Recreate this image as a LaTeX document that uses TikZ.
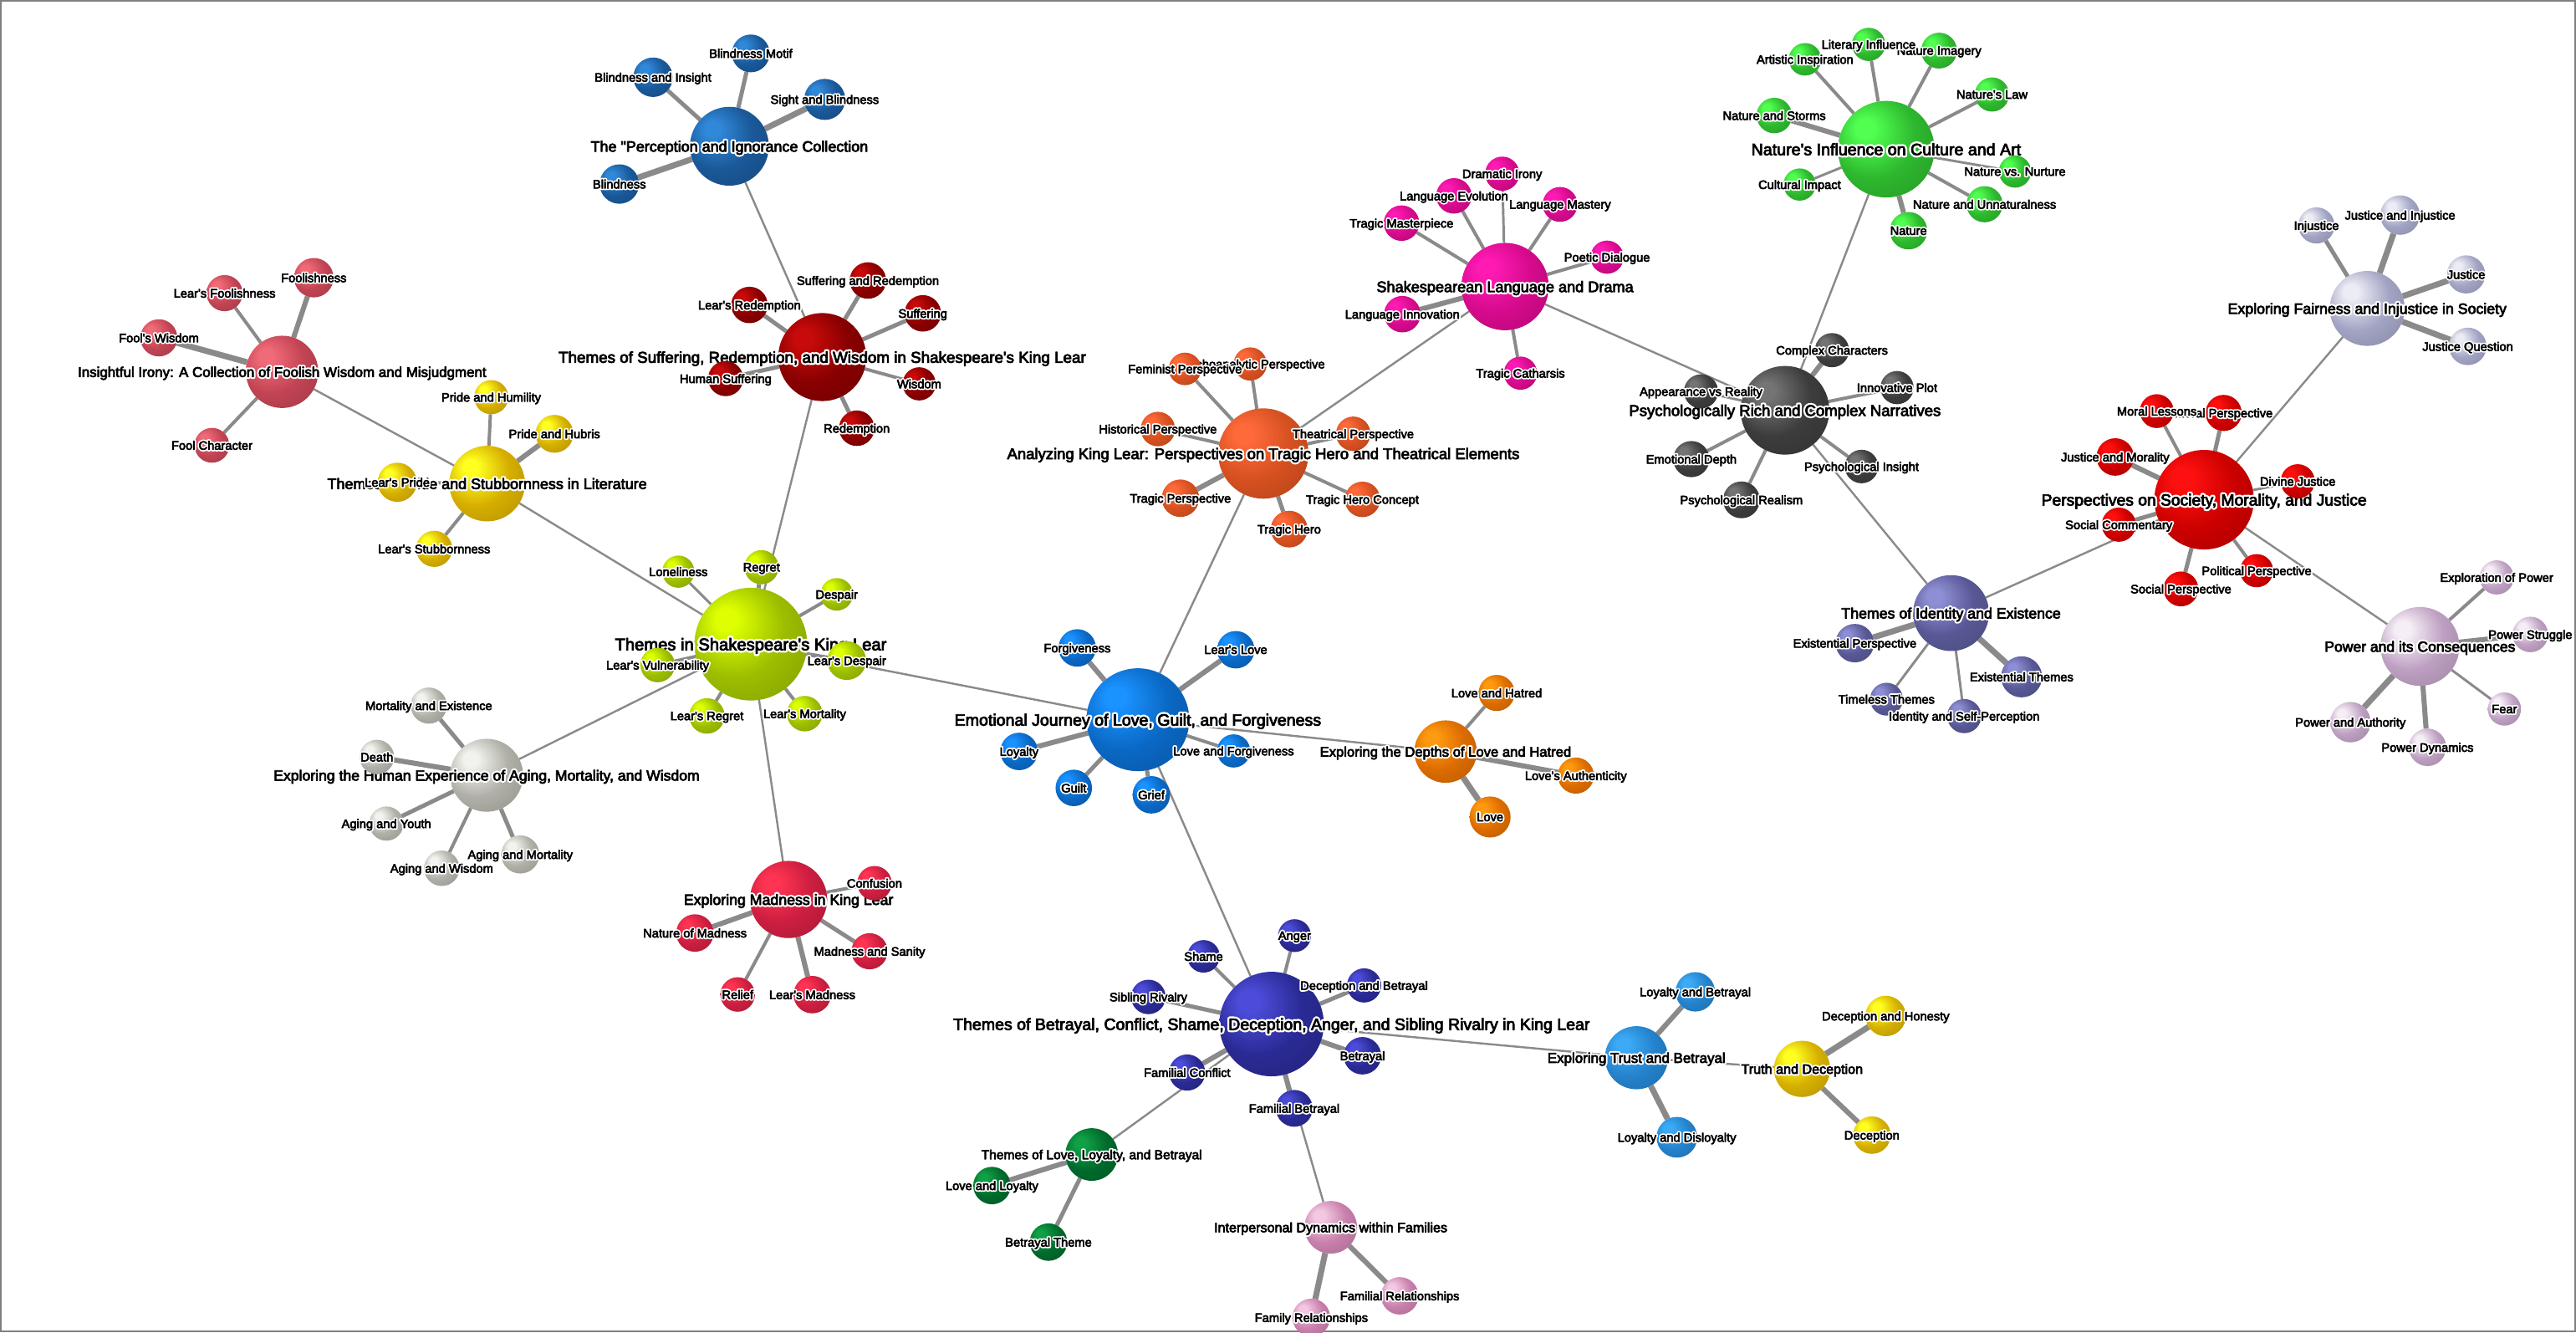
\documentclass[tikz,border=0pt]{standalone}
\usepackage{fontspec}
\newfontfamily\lblfont[FakeBold=4]{Liberation Sans}
\newfontfamily\halofont[FakeBold=28]{Liberation Sans}
\newcommand\hl[1]{\leavevmode\rlap{\color{white}\halofont #1}#1}
\pgfdeclarelayer{bgl}
\pgfdeclarelayer{edgel}
\pgfsetlayers{bgl,edgel,main}
% base / light colours
\definecolor{perc}{HTML}{1A5898}\definecolor{percL}{HTML}{3088D8}
\definecolor{fool}{HTML}{C24454}\definecolor{foolL}{HTML}{F06A78}
\definecolor{pride}{HTML}{D6AE00}\definecolor{prideL}{HTML}{FFFF20}
\definecolor{aging}{HTML}{B0B0A8}\definecolor{agingL}{HTML}{F2F2EE}
\definecolor{cent}{HTML}{9CBE00}\definecolor{centL}{HTML}{DDFF00}
\definecolor{suf}{HTML}{880000}\definecolor{sufL}{HTML}{C80A0A}
\definecolor{ana}{HTML}{D65020}\definecolor{anaL}{HTML}{FF6A3A}
\definecolor{lang}{HTML}{D60A8C}\definecolor{langL}{HTML}{FF1AB4}
\definecolor{nat}{HTML}{2EB82E}\definecolor{natL}{HTML}{50FF50}
\definecolor{psy}{HTML}{3C3C3C}\definecolor{psyL}{HTML}{747474}
\definecolor{fair}{HTML}{A2A4C4}\definecolor{fairL}{HTML}{ECECF4}
\definecolor{soc}{HTML}{CC0000}\definecolor{socL}{HTML}{FF1010}
\definecolor{ident}{HTML}{585896}\definecolor{identL}{HTML}{8E8ED4}
\definecolor{pow}{HTML}{BEA0C2}\definecolor{powL}{HTML}{F6EEF6}
\definecolor{emo}{HTML}{0A68C4}\definecolor{emoL}{HTML}{1A92FF}
\definecolor{lh}{HTML}{DC6C00}\definecolor{lhL}{HTML}{FF9A10}
\definecolor{mad}{HTML}{CC1E40}\definecolor{madL}{HTML}{FF3452}
\definecolor{bet}{HTML}{2A2A94}\definecolor{betL}{HTML}{4C4CDA}
\definecolor{ll}{HTML}{006A2C}\definecolor{llL}{HTML}{10A046}
\definecolor{inter}{HTML}{C880AC}\definecolor{interL}{HTML}{F4C8E2}
\definecolor{tru}{HTML}{2482CC}\definecolor{truL}{HTML}{3CAAF6}
\definecolor{tth}{HTML}{D6B000}\definecolor{tthL}{HTML}{FFFF20}
\definecolor{edgegray}{HTML}{8A8A8A}
\definecolor{framegray}{HTML}{808080}
\colorlet{bc}{black}\colorlet{bl}{white}
\pgfdeclareradialshading[bc,bl]{sph}{\pgfpoint{-12bp}{12bp}}{%
 color(0bp)=(bl); color(5bp)=(bl); color(22bp)=(bc); color(38bp)=(bc!85!black); color(56bp)=(bc!68!black)}
\tikzset{
 ball/.style={circle, inner sep=0pt, outer sep=0pt, draw=none,
   /utils/exec={\colorlet{bc}{#1}\colorlet{bl}{#1L}}, shading=sph, shade},
 lbl/.style={font=\lblfont\fontsize{#1}{#1}\selectfont, inner sep=0pt, text=black,
   text depth=0pt},
 hubE/.style={draw=edgegray, line width=0.7pt},
 ea/.style={draw=edgegray, line width=0.85pt},
 eb/.style={draw=edgegray, line width=1.15pt},
 ec/.style={draw=edgegray, line width=1.45pt},
 ed/.style={draw=edgegray, line width=1.75pt},
 ee/.style={draw=edgegray, line width=2.05pt},
}
\newcommand\Hub[7]{\node[ball=#5, minimum size={#4*0.04cm},
  label={[lbl=#6, name=#1t]center:{\hl{#7}}}] (#1) at (#2,#3) {};}
\newcommand\Leaf[6]{\node[ball=#5, minimum size={#4*0.04cm},
  label={[lbl=4.25, name=#1t]center:{\hl{#6}}}] (#1) at (#2,#3) {};}
\begin{document}
\begin{tikzpicture}[x=0.02cm, y=-0.02cm, line join=round]
\useasboundingbox (0,0) rectangle (1568,811);
\begin{pgfonlayer}{bgl}
 \fill[white] (0,0) rectangle (1568,811);
 \draw[framegray, line width=0.6pt] (0.6,0.6) rectangle (1567.4,810.4);
\end{pgfonlayer}
% A perception
\Hub{A}{444}{89}{24}{perc}{5.2}{The "Perception and Ignorance Collection}
\Leaf{A1}{457}{32.5}{11.5}{perc}{Blindness Motif}
\Leaf{A2}{397.5}{47}{12}{perc}{Blindness and Insight}
\Leaf{A3}{502}{60.5}{12.5}{perc}{Sight and Blindness}
\Leaf{A4}{377}{112}{12}{perc}{Blindness}
% B fool
\Hub{B}{171.7}{226.3}{22}{fool}{4.9}{Insightful Irony: A Collection of Foolish Wisdom and Misjudgment}
\Leaf{B1}{191}{169}{12}{fool}{Foolishness}
\Leaf{B2}{136.7}{178.4}{11}{fool}{Lear's Foolishness}
\Leaf{B3}{96.7}{205.6}{11.3}{fool}{Fool's Wisdom}
\Leaf{B4}{129}{271}{10.6}{fool}{Fool Character}
% C pride
\Hub{C}{296.5}{294.3}{23}{pride}{5.2}{Themes of Pride and Stubbornness in Literature}
\Leaf{C1}{299}{241.7}{10.4}{pride}{Pride and Humility}
\Leaf{C2}{337.5}{264}{11.5}{pride}{Pride and Hubris}
\Leaf{C3}{241.8}{293.5}{11.9}{pride}{Lear's Pride}
\Leaf{C4}{264.3}{334}{11}{pride}{Lear's Stubbornness}
% D aging
\Hub{D}{296.2}{471.8}{22.2}{aging}{5.1}{Exploring the Human Experience of Aging, Mortality, and Wisdom}
\Leaf{D1}{261}{429.4}{11}{aging}{Mortality and Existence}
\Leaf{D2}{229.4}{460.7}{10.5}{aging}{Death}
\Leaf{D3}{235.2}{501.2}{10.4}{aging}{Aging and Youth}
\Leaf{D4}{268.9}{528.4}{10.8}{aging}{Aging and Wisdom}
\Leaf{D5}{316.7}{520}{11.6}{aging}{Aging and Mortality}
% E central
\Hub{E}{457}{392}{34.3}{cent}{5.85}{Themes in Shakespeare's King Lear}
\Leaf{E1}{412.9}{347.9}{9.8}{cent}{Loneliness}
\Leaf{E2}{463.5}{345.2}{10.4}{cent}{Regret}
\Leaf{E3}{509.3}{361.7}{9.9}{cent}{Despair}
\Leaf{E4}{515.4}{402}{11.8}{cent}{Lear's Despair}
\Leaf{E5}{489.8}{434.3}{10.8}{cent}{Lear's Mortality}
\Leaf{E6}{430.3}{435.7}{10.8}{cent}{Lear's Regret}
\Leaf{E7}{400.3}{404.7}{10.5}{cent}{Lear's Vulnerability}
% F suffering
\Hub{F}{500.5}{217.3}{26.8}{suf}{5.45}{Themes of Suffering, Redemption, and Wisdom in Shakespeare's King Lear}
\Leaf{F1}{528.3}{170.7}{11.1}{suf}{Suffering and Redemption}
\Leaf{F2}{456.2}{185.6}{11.1}{suf}{Lear's Redemption}
\Leaf{F3}{561.7}{190.7}{11.1}{suf}{Suffering}
\Leaf{F4}{441.7}{230.4}{10.7}{suf}{Human Suffering}
\Leaf{F5}{559.5}{233.6}{10.1}{suf}{Wisdom}
\Leaf{F6}{521.5}{260.6}{10.8}{suf}{Redemption}
% G analyzing
\Hub{G}{769}{276}{27.5}{ana}{5.35}{Analyzing King Lear: Perspectives on Tragic Hero and Theatrical Elements}
\Leaf{G2}{761}{221.5}{10.1}{ana}{Psychoanalytic Perspective}
\Leaf{G1}{721.3}{224.5}{9.9}{ana}{Feminist Perspective}
\Leaf{G3}{704.8}{261.1}{10.5}{ana}{Historical Perspective}
\Leaf{G4}{823.7}{264}{10.5}{ana}{Theatrical Perspective}
\Leaf{G5}{718.5}{303.2}{11.4}{ana}{Tragic Perspective}
\Leaf{G6}{829.3}{303.9}{10.8}{ana}{Tragic Hero Concept}
\Leaf{G7}{784.7}{322}{11.2}{ana}{Tragic Hero}
% H language
\Hub{H}{916.1}{174.4}{26.6}{lang}{5.25}{Shakespearean Language and Drama}
\Leaf{H1}{914.4}{105.7}{10.4}{lang}{Dramatic Irony}
\Leaf{H2}{885}{119.2}{10.8}{lang}{Language Evolution}
\Leaf{H3}{949.6}{124.4}{10.6}{lang}{Language Mastery}
\Leaf{H4}{853.1}{135.8}{10.8}{lang}{Tragic Masterpiece}
\Leaf{H5}{978.2}{156.5}{10.1}{lang}{Poetic Dialogue}
\Leaf{H6}{853.6}{191.2}{11.1}{lang}{Language Innovation}
\Leaf{H7}{925.5}{227.1}{10.1}{lang}{Tragic Catharsis}
% I nature
\Hub{I}{1148.1}{90.8}{29.4}{nat}{5.69}{Nature's Influence on Culture and Art}
\Leaf{I3}{1180.3}{30.8}{10.9}{nat}{Nature Imagery}
\Leaf{I1}{1098.7}{36.1}{9.9}{nat}{Artistic Inspiration}
\Leaf{I2}{1137.4}{27}{10.1}{nat}{Literary Influence}
\Leaf{I4}{1212.5}{57.5}{10.4}{nat}{Nature's Law}
\Leaf{I5}{1080}{70.3}{10.8}{nat}{Nature and Storms}
\Leaf{I6}{1095.4}{112.3}{9.8}{nat}{Cultural Impact}
\Leaf{I7}{1226.5}{104.4}{9.8}{nat}{Nature vs. Nurture}
\Leaf{I8}{1208}{124.3}{11}{nat}{Nature and Unnaturalness}
\Leaf{I9}{1161.7}{140.4}{11.4}{nat}{Nature}
% J psych
\Hub{J}{1086.5}{249.7}{27}{psy}{5.37}{Psychologically Rich and Complex Narratives}
\Leaf{J1}{1115.1}{213.1}{10.4}{psy}{Complex Characters}
\Leaf{J2}{1035.4}{238.2}{10.4}{psy}{Appearance vs Reality}
\Leaf{J3}{1154.7}{235.9}{10.1}{psy}{Innovative Plot}
\Leaf{J4}{1029.5}{279.4}{11}{psy}{Emotional Depth}
\Leaf{J5}{1060}{304.2}{11.2}{psy}{Psychological Realism}
\Leaf{J6}{1133.1}{283.9}{10.2}{psy}{Psychological Insight}
% K fairness
\Hub{K}{1440.9}{187.7}{22.8}{fair}{5.14}{Exploring Fairness and Injustice in Society}
\Leaf{K1}{1410}{137.2}{11}{fair}{Injustice}
\Leaf{K2}{1460.9}{130.9}{12}{fair}{Justice and Injustice}
\Leaf{K3}{1501.1}{167}{11.6}{fair}{Justice}
\Leaf{K4}{1502.1}{210.8}{11.4}{fair}{Justice Question}
% L society
\Hub{L}{1341.6}{304.1}{30.3}{soc}{5.58}{Perspectives on Society, Morality, and Justice}
\Leaf{L2}{1353.5}{251.3}{11}{soc}{Moral Perspective}
\Leaf{L1}{1312.8}{250.2}{10.3}{soc}{Moral Lessons}
\Leaf{L3}{1287.5}{278.1}{11.4}{soc}{Justice and Morality}
\Leaf{L4}{1398.6}{292.9}{10.4}{soc}{Divine Justice}
\Leaf{L5}{1289.7}{319.3}{10.4}{soc}{Social Commentary}
\Leaf{L6}{1327.5}{358.4}{10.6}{soc}{Social Perspective}
\Leaf{L7}{1373.6}{347.3}{10.1}{soc}{Political Perspective}
% M identity
\Hub{M}{1187.6}{373.1}{23.1}{ident}{5.14}{Themes of Identity and Existence}
\Leaf{M1}{1129}{391.4}{11.7}{ident}{Existential Perspective}
\Leaf{M2}{1148.3}{425.5}{10}{ident}{Timeless Themes}
\Leaf{M3}{1195.6}{435.8}{10.4}{ident}{Identity and Self-Perception}
\Leaf{M4}{1230.5}{411.9}{12.5}{ident}{Existential Themes}
% N power
\Hub{N}{1473}{393.4}{24}{pow}{5.08}{Power and its Consequences}
\Leaf{N1}{1519.7}{351.4}{10.4}{pow}{Exploration of Power}
\Leaf{N2}{1540.2}{386.1}{10.8}{pow}{Power Struggle}
\Leaf{N3}{1524.4}{431.5}{10.1}{pow}{Fear}
\Leaf{N4}{1477.6}{454.8}{11.4}{pow}{Power Dynamics}
\Leaf{N5}{1430.7}{439.5}{12.3}{pow}{Power and Authority}
% O emotional
\Hub{O}{692.6}{438}{31.3}{emo}{5.67}{Emotional Journey of Love, Guilt, and Forgiveness}
\Leaf{O1}{655.7}{394.3}{11.4}{emo}{Forgiveness}
\Leaf{O2}{752.2}{395.4}{11.4}{emo}{Lear's Love}
\Leaf{O3}{620.3}{457.3}{11.4}{emo}{Loyalty}
\Leaf{O4}{653.6}{479.5}{11.1}{emo}{Guilt}
\Leaf{O5}{700.8}{483.7}{11.4}{emo}{Grief}
\Leaf{O6}{750.9}{457}{10.1}{emo}{Love and Forgiveness}
% P love and hatred
\Hub{P}{879.9}{457.4}{19}{lh}{4.82}{Exploring the Depths of Love and Hatred}
\Leaf{P1}{911}{421.7}{11}{lh}{Love and Hatred}
\Leaf{P2}{959.2}{472}{11}{lh}{Love's Authenticity}
\Leaf{P3}{907}{497.2}{12.5}{lh}{Love}
% Q madness
\Hub{Q}{480}{547.4}{23.5}{mad}{5.14}{Exploring Madness in King Lear}
\Leaf{Q1}{532.3}{537.5}{10.5}{mad}{Confusion}
\Leaf{Q2}{423}{567.8}{11.4}{mad}{Nature of Madness}
\Leaf{Q3}{529.3}{578.9}{11}{mad}{Madness and Sanity}
\Leaf{Q4}{449}{605.2}{10.5}{mad}{Relief}
\Leaf{Q5}{494.4}{605.3}{11.4}{mad}{Lear's Madness}
% R betrayal
\Hub{R}{774}{623.2}{31.8}{bet}{5.66}{Themes of Betrayal, Conflict, Shame, Deception, Anger, and Sibling Rivalry in King Lear}
\Leaf{R1}{788}{569.4}{10}{bet}{Anger}
\Leaf{R2}{732.6}{582}{9.9}{bet}{Shame}
\Leaf{R3}{830.3}{599.7}{10.4}{bet}{Deception and Betrayal}
\Leaf{R4}{699}{606.7}{10.5}{bet}{Sibling Rivalry}
\Leaf{R5}{829.3}{642.5}{11.4}{bet}{Betrayal}
\Leaf{R6}{722.6}{652.7}{11}{bet}{Familial Conflict}
\Leaf{R7}{787.8}{674.5}{11.2}{bet}{Familial Betrayal}
% S love loyalty
\Hub{S}{664.5}{702.6}{16}{ll}{4.5}{Themes of Love, Loyalty, and Betrayal}
\Leaf{S1}{603.8}{721.5}{11.4}{ll}{Love and Loyalty}
\Leaf{S2}{638.2}{755.9}{11.4}{ll}{Betrayal Theme}
% T interpersonal
\Hub{T}{810}{746.9}{16}{inter}{4.66}{Interpersonal Dynamics within Families}
\Leaf{T1}{852}{788.6}{11.4}{inter}{Familial Relationships}
\Leaf{T2}{798.2}{801.8}{11.5}{inter}{Family Relationships}
% U trust
\Hub{U}{996.1}{643.7}{19.2}{tru}{4.9}{Exploring Trust and Betrayal}
\Leaf{U1}{1031.9}{603.6}{12}{tru}{Loyalty and Betrayal}
\Leaf{U2}{1020.7}{692.1}{12.4}{tru}{Loyalty and Disloyalty}
% V truth
\Hub{V}{1096.9}{650.5}{17.1}{tth}{4.67}{Truth and Deception}
\Leaf{V1}{1147.8}{618.3}{12.3}{tth}{Deception and Honesty}
\Leaf{V2}{1139.4}{690.8}{11.4}{tth}{Deception}
% connectors
\begin{pgfonlayer}{edgel}
\foreach \a/\b in {A/F, B/C, C/E, E/D, E/F, E/O, E/Q, O/G, O/P, O/R, G/H, H/J, J/I, J/M, M/L, L/K, L/N, R/U, U/V, R/S, R/T}
  \draw[hubE] (\a) -- (\b);
\foreach \a/\b in {E/E1, H/H1, I/I6, I/I7, J/J2, L/L4, M/M2, M/M3, N/N3}
  \draw[ea] (\a) -- (\b);
\foreach \a/\b in {B/B2, B/B4, C/C1, C/C3, C/C4, D/D4, E/E3, E/E4, E/E5, E/E6, E/E7, F/F5, G/G1, G/G2, G/G3, G/G4, G/G6, H/H2, H/H3, H/H4, H/H5, H/H7, I/I1, I/I2, I/I3, I/I4, I/I8, J/J3, J/J4, J/J5, J/J6, L/L1, L/L7, N/N1, O/O6, P/P1, Q/Q1, Q/Q4, R/R1, R/R2}
  \draw[eb] (\a) -- (\b);
\foreach \a/\b in {A/A1, A/A2, D/D1, D/D3, D/D5, E/E2, F/F1, F/F2, F/F3, F/F4, F/F6, G/G7, K/K1, L/L2, L/L5, L/L6, O/O4, O/O5, Q/Q3, R/R3, R/R4, S/S2}
  \draw[ec] (\a) -- (\b);
\foreach \a/\b in {B/B1, C/C2, D/D2, G/G5, H/H6, I/I5, I/I9, J/J1, L/L3, N/N2, N/N4, O/O1, O/O2, O/O3, P/P2, Q/Q2, Q/Q5, R/R5, R/R6, R/R7, S/S1, T/T1, U/U1, V/V2}
  \draw[ed] (\a) -- (\b);
\foreach \a/\b in {A/A3, A/A4, B/B3, K/K2, K/K3, K/K4, M/M1, M/M4, N/N5, P/P3, T/T2, U/U2, V/V1}
  \draw[ee] (\a) -- (\b);
\end{pgfonlayer}
\end{tikzpicture}
\end{document}
